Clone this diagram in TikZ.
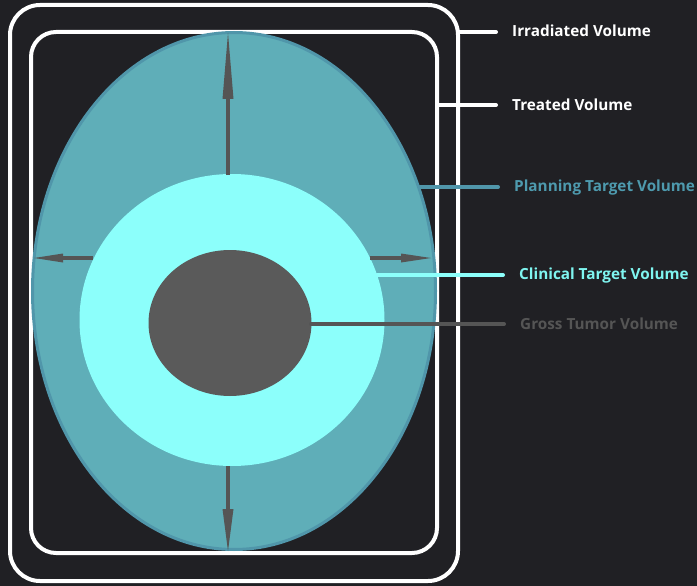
\documentclass[tikz,border=0pt]{standalone}
\usepackage{fontspec}
\setmainfont{Open Sans}
\usetikzlibrary{shapes.geometric,arrows.meta}
\definecolor{bg}{HTML}{202024}
\definecolor{ptvfill}{HTML}{5FAEB8}
\definecolor{ptvline}{HTML}{5096AA}
\definecolor{ptvtext}{HTML}{4E9AAE}
\definecolor{ctvfill}{HTML}{8CFFFB}
\definecolor{ctvtext}{HTML}{7FF5F0}
\definecolor{gtvfill}{HTML}{5A5A5A}
\definecolor{gtvtext}{HTML}{555555}
\definecolor{arrowc}{HTML}{555555}
\tikzset{
  volbox/.style={draw=white, line width=4pt, inner sep=0pt, outer sep=0pt},
  blob/.style={ellipse, inner sep=0pt, outer sep=0pt},
  growarrow/.style={draw=arrowc, line width=4pt},
  leader/.style={line width=4pt, line cap=round},
  lbl/.style={anchor=west, inner xsep=16pt, inner ysep=0pt, font=\bfseries\fontsize{15.3}{17}\selectfont}
}
\begin{document}
\begin{tikzpicture}[x=1pt,y=-1pt]
\fill[bg] (0,0) rectangle (697,586);
\useasboundingbox (0,0) rectangle (697,586);
% boxes
\node[volbox, rounded corners=30pt, minimum width=448pt, minimum height=576pt] (irr) at (234,293) {};
\node[volbox, rounded corners=25pt, minimum width=406pt, minimum height=521pt] (trt) at (234,292.5) {};
% volumes
\node[blob, fill=ptvfill, draw=ptvline, line width=3pt, minimum width=403pt, minimum height=517pt] (ptv) at (234,291) {};
\node[blob, fill=ctvfill, minimum width=305pt, minimum height=292pt] (ctv) at (232,320) {};
\node[blob, fill=gtvfill, minimum width=163pt, minimum height=146pt] (gtv) at (230,323) {};
% growth arrows
\coordinate (aU0) at (228,175); \coordinate (aU1) at (228,33);
\coordinate (aD0) at (228,466); \coordinate (aD1) at (228,551);
\coordinate (aL0) at (93,258);  \coordinate (aL1) at (34,258);
\coordinate (aR0) at (370,258); \coordinate (aR1) at (431,258);
\draw[growarrow, -{Triangle[length=66pt,width=11pt,line width=0pt]}] (aU0) -- (aU1);
\draw[growarrow, -{Triangle[length=42pt,width=11pt,line width=0pt]}] (aD0) -- (aD1);
\draw[growarrow, -{Triangle[length=29pt,width=9pt,line width=0pt]}] (aL0) -- (aL1);
\draw[growarrow, -{Triangle[length=30pt,width=9pt,line width=0pt]}] (aR0) -- (aR1);
% labels
\node[lbl, text=white] (lIrr) at (496,30.5) {Irradiated Volume};
\node[lbl, text=white] (lTrt) at (496,104.5) {Treated Volume};
\node[lbl, text=ptvtext] (lPtv) at (498,187.5) {Planning Target Volume};
\node[lbl, text=ctvtext] (lCtv) at (503,275.5) {Clinical Target Volume};
\node[lbl, text=gtvtext] (lGtv) at (504,323.5) {Gross Tumor Volume};
% leaders
\coordinate (sIrr) at (458,32);
\coordinate (sTrt) at (437,105);
\coordinate (sPtv) at (420,187);
\coordinate (sCtv) at (377,275);
\coordinate (sGtv) at (311,324);
\draw[leader, white] (sIrr) -- (sIrr -| lIrr.west);
\draw[leader, white] (sTrt) -- (sTrt -| lTrt.west);
\draw[leader, ptvline] (sPtv) -- (sPtv -| lPtv.west);
\draw[leader, ctvfill] (sCtv) -- (sCtv -| lCtv.west);
\draw[leader, arrowc] (sGtv) -- (sGtv -| lGtv.west);
\end{tikzpicture}
\end{document}
